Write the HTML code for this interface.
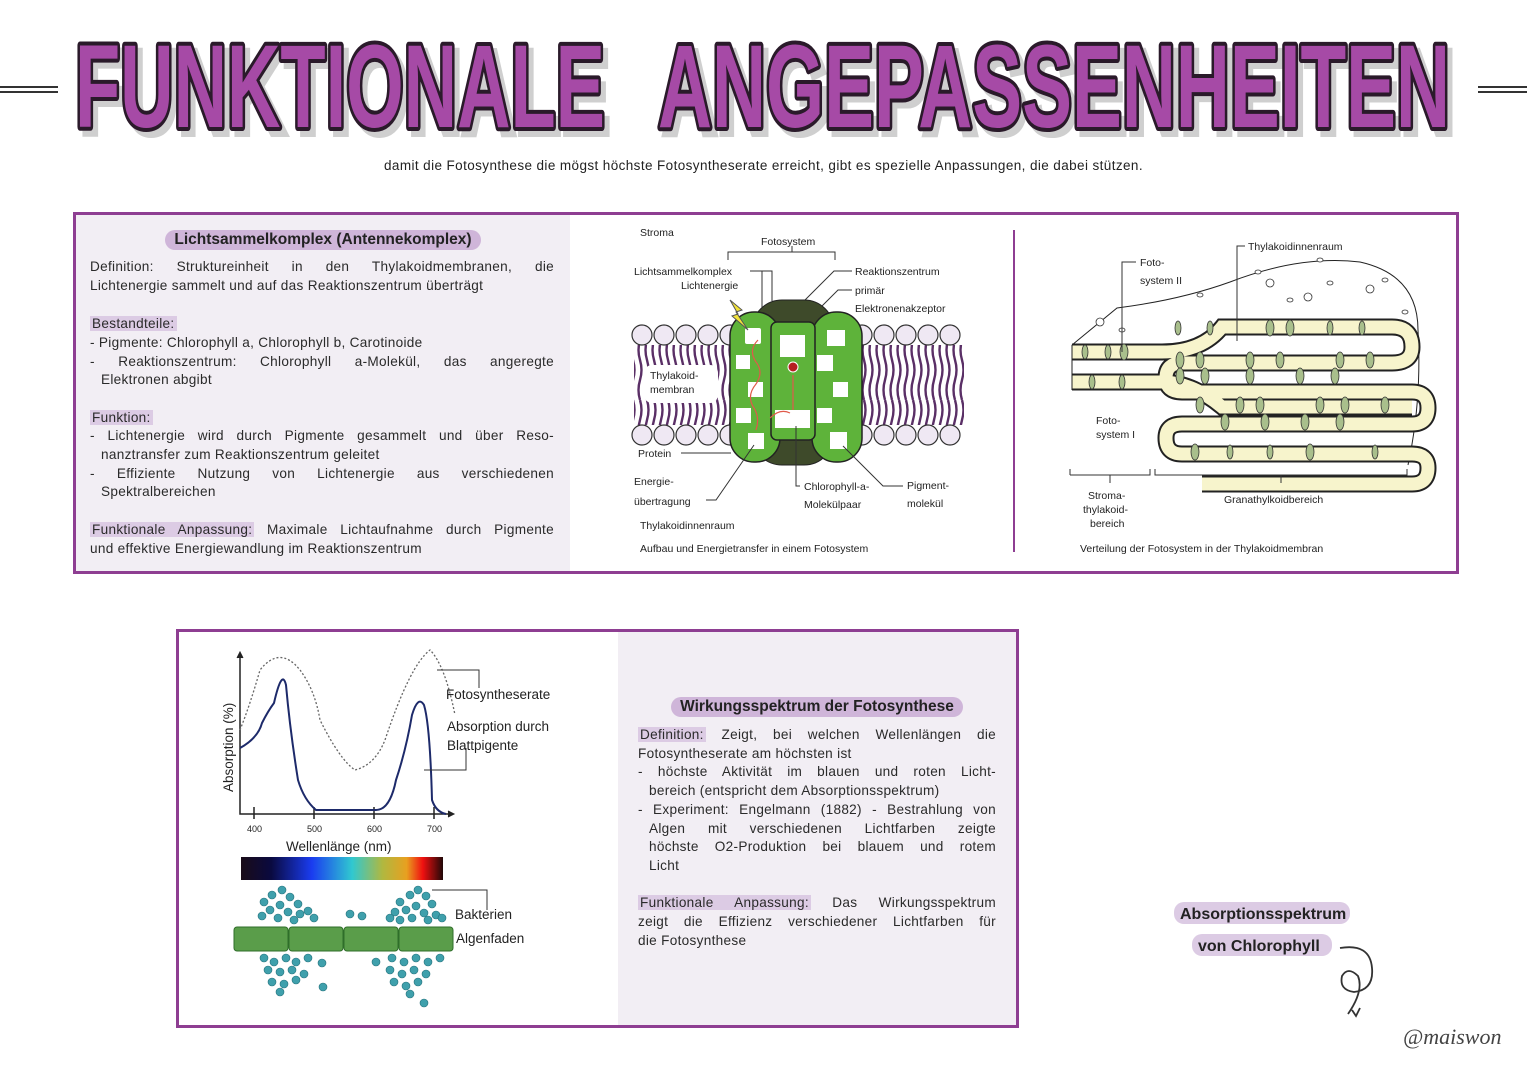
<!DOCTYPE html>
<html><head><meta charset="utf-8">
<style>
*{margin:0;padding:0;box-sizing:border-box}
body{width:1527px;height:1080px;background:#fff;position:relative;overflow:hidden;font-family:"Liberation Sans","DejaVu Sans",sans-serif;color:#222}
.abs{position:absolute}
.sub{top:158px;left:0;width:1527px;text-align:center;font-size:13.5px;letter-spacing:0.4px}
.box{position:absolute;border:3px solid #8e3e92}
.txt{font-size:13.6px;line-height:18.7px;letter-spacing:0.3px;color:#2a2a2a}
.j{text-align:justify;text-align-last:justify}
.pill{display:inline-block;background:#cfb5d9;border-radius:12px;padding:1px 9px;font-weight:bold;font-size:15.5px}
.hl{background:#dccbe4;padding:0 2px}
</style></head><body>
<div class="abs" style="left:0;top:86px;width:58px;height:7px;border-top:2px solid #333;border-bottom:2px solid #333"></div>
<div class="abs" style="left:1478px;top:86px;width:49px;height:7px;border-top:2px solid #333;border-bottom:2px solid #333"></div>
<svg class="abs" style="left:0;top:0" width="1527" height="160" font-family="Liberation Sans,sans-serif" font-weight="900" font-size="118">
<text x="80" y="133" textLength="530" lengthAdjust="spacingAndGlyphs" fill="#cfcfcf" stroke="#cfcfcf" stroke-width="8">FUNKTIONALE</text>
<text x="663" y="133" textLength="792" lengthAdjust="spacingAndGlyphs" fill="#cfcfcf" stroke="#cfcfcf" stroke-width="8">ANGEPASSENHEITEN</text>
<text x="75" y="127" textLength="530" lengthAdjust="spacingAndGlyphs" fill="#a64aa6" stroke="#2a1a2a" stroke-width="8" stroke-linejoin="round" style="paint-order:stroke">FUNKTIONALE</text>
<text x="658" y="127" textLength="792" lengthAdjust="spacingAndGlyphs" fill="#a64aa6" stroke="#2a1a2a" stroke-width="8" stroke-linejoin="round" style="paint-order:stroke">ANGEPASSENHEITEN</text>
</svg>
<div class="abs sub">damit die Fotosynthese die mögst höchste Fotosyntheserate erreicht, gibt es spezielle Anpassungen, die dabei stützen.</div>

<div class="box" style="left:73px;top:212px;width:1386px;height:362px"></div>
<div class="abs" style="left:76px;top:215px;width:494px;height:356px;background:#f2eef4"></div>
<div class="abs" style="left:1013px;top:230px;width:2px;height:322px;background:#8e3e92"></div>
<div class="abs" style="left:76px;top:230px;width:494px;text-align:center"><span class="pill">Lichtsammelkomplex (Antennekomplex)</span></div>
<div class="abs txt" style="left:90px;top:258px;width:464px">
<div class="j">Definition: Struktureinheit in den Thylakoidmembranen, die</div>
<div>Lichtenergie sammelt und auf das Reaktionszentrum überträgt</div>
<div>&nbsp;</div>
<div style="margin-top:1px"><span class="hl">Bestandteile:</span></div>
<div>- Pigmente: Chlorophyll a, Chlorophyll b, Carotinoide</div>
<div class="j"><span style="white-space:nowrap">- Reaktionszentrum:</span> Chlorophyll a-Molekül, das angeregte</div>
<div style="padding-left:11px">Elektronen abgibt</div>
<div>&nbsp;</div>
<div><span class="hl">Funktion:</span></div>
<div class="j"><span style="white-space:nowrap">- Lichtenergie</span> wird durch Pigmente gesammelt und über Reso-</div>
<div style="padding-left:11px">nanztransfer zum Reaktionszentrum geleitet</div>
<div class="j"><span style="white-space:nowrap">- Effiziente</span> Nutzung von Lichtenergie aus verschiedenen</div>
<div style="padding-left:11px">Spektralbereichen</div>
<div>&nbsp;</div>
<div class="j"><span class="hl">Funktionale Anpassung:</span> Maximale Lichtaufnahme durch Pigmente</div>
<div>und effektive Energiewandlung im Reaktionszentrum</div>
</div>

<svg class="abs" style="left:0;top:0" width="1527" height="1080" font-family="Liberation Sans,sans-serif" font-size="10.5" fill="#222">
<defs>
<pattern id="tail" width="7" height="80" patternUnits="userSpaceOnUse">
<path d="M3 0 q3 10 0 20 q-3 10 0 20 q3 10 0 20 q-3 10 0 20" stroke="#5a2f66" stroke-width="2.4" fill="none"/>
</pattern>
</defs>
<text x="640" y="236">Stroma</text>
<text x="761" y="245">Fotosystem</text>
<path d="M728 260 v-8 h107 v8 M792 252 v-6" stroke="#333" fill="none"/>
<text x="634" y="275">Lichtsammelkomplex</text>
<text x="681" y="289">Lichtenergie</text>
<text x="855" y="275">Reaktionszentrum</text>
<text x="855" y="294">primär</text>
<text x="855" y="312">Elektronenakzeptor</text>
<path d="M750 271 h12 v40 M762 271 h10 v30 M852 271 h-18 l-30 30 M852 290 h-14 l-20 20" stroke="#333" fill="none"/>
<rect x="634" y="345" width="330" height="80" fill="url(#tail)"/>
<g fill="#efe8f3" stroke="#333" stroke-width="1.2">
<circle cx="642" cy="335" r="10"/><circle cx="664" cy="335" r="10"/><circle cx="686" cy="335" r="10"/><circle cx="708" cy="335" r="10"/><circle cx="730" cy="335" r="10"/>
<circle cx="862" cy="335" r="10"/><circle cx="884" cy="335" r="10"/><circle cx="906" cy="335" r="10"/><circle cx="928" cy="335" r="10"/><circle cx="950" cy="335" r="10"/>
<circle cx="642" cy="435" r="10"/><circle cx="664" cy="435" r="10"/><circle cx="686" cy="435" r="10"/><circle cx="708" cy="435" r="10"/><circle cx="730" cy="435" r="10"/>
<circle cx="862" cy="435" r="10"/><circle cx="884" cy="435" r="10"/><circle cx="906" cy="435" r="10"/><circle cx="928" cy="435" r="10"/><circle cx="950" cy="435" r="10"/>
</g>
<rect x="644" y="365" width="74" height="38" rx="8" fill="#fff"/>
<text x="650" y="379">Thylakoid-</text><text x="650" y="393">membran</text>
<rect x="752" y="300" width="82" height="165" rx="30" fill="#3e4a2a" stroke="#222"/>
<rect x="730" y="312" width="50" height="150" rx="24" fill="#5eb33a" stroke="#222" stroke-width="1.5"/>
<rect x="812" y="312" width="50" height="150" rx="24" fill="#5eb33a" stroke="#222" stroke-width="1.5"/>
<rect x="771" y="322" width="44" height="118" rx="6" fill="#5eb33a" stroke="#222" stroke-width="1.5"/>
<g fill="#fff">
<rect x="745" y="328" width="16" height="16" rx="2"/><rect x="736" y="355" width="14" height="14"/><rect x="748" y="382" width="15" height="15"/><rect x="736" y="408" width="15" height="15"/><rect x="748" y="433" width="16" height="16"/>
<rect x="780" y="335" width="25" height="22"/><rect x="775" y="410" width="35" height="18"/>
<rect x="827" y="330" width="18" height="16"/><rect x="817" y="355" width="16" height="16"/><rect x="833" y="382" width="15" height="15"/><rect x="817" y="408" width="15" height="15"/><rect x="830" y="432" width="17" height="17"/>
</g>
<circle cx="793" cy="367" r="5" fill="#b52020" stroke="#fff"/>
<path d="M758 340 q-10 10 -2 22 q8 10 0 22 q-10 12 -2 24 q6 10 2 22 M770 418 q10 -10 20 -5 M793 410 v-35" stroke="#e05a4a" stroke-width="1.2" fill="none"/>
<path d="M730 300 l12 10 -6 2 12 18 -16 -14 6 -2 z" fill="#f2e33a" stroke="#555"/>
<text x="638" y="457">Protein</text><path d="M681 453 h50" stroke="#333"/>
<text x="634" y="485">Energie-</text><text x="634" y="505">übertragung</text><path d="M706 500 h10 l38 -55" stroke="#333" fill="none"/>
<text x="804" y="490">Chlorophyll-a-</text><text x="804" y="508">Molekülpaar</text><path d="M800 486 h-4 v-60" stroke="#333" fill="none"/>
<text x="907" y="489">Pigment-</text><text x="907" y="507">molekül</text><path d="M903 486 h-20 l-40 -40" stroke="#333" fill="none"/>
<text x="640" y="529">Thylakoidinnenraum</text>
<text x="640" y="552">Aufbau und Energietransfer in einem Fotosystem</text>

<path d="M1072 345 L1117 308 Q1180 300 1230 282 Q1300 255 1360 262 Q1418 275 1418 330 Q1422 400 1408 465" fill="none" stroke="#222"/>
<g fill="#fff" stroke="#333" stroke-width="0.8">
<ellipse cx="1200" cy="295" rx="3" ry="2"/><ellipse cx="1258" cy="272" rx="3" ry="2"/><ellipse cx="1320" cy="260" rx="3" ry="2"/><ellipse cx="1290" cy="300" rx="3" ry="2"/><ellipse cx="1330" cy="283" rx="3" ry="2"/><ellipse cx="1385" cy="280" rx="3" ry="2"/><ellipse cx="1405" cy="312" rx="3" ry="2"/><ellipse cx="1270" cy="283" rx="4" ry="4"/><ellipse cx="1308" cy="297" rx="4" ry="4"/><ellipse cx="1370" cy="289" rx="4" ry="4"/><ellipse cx="1100" cy="322" rx="4" ry="4"/><ellipse cx="1122" cy="330" rx="3" ry="2"/>
</g>
<g fill="none" stroke="#222" stroke-width="17">
<path d="M1072 352 h90 q40 0 60 -25 h170 q20 0 20 20 q0 16 -20 16 h-210 q-16 0 -16 15 q0 14 16 14 h230 q16 0 16 16 q0 16 -16 16 h-230 q-16 0 -16 14 q0 16 16 16 h230 q16 0 16 14 q0 16 -16 16 h-210"/>
<path d="M1072 382 h90 q30 0 60 25 h190"/>
</g>
<g fill="none" stroke="#f7f4cc" stroke-width="13">
<path d="M1072 352 h90 q40 0 60 -25 h170 q20 0 20 20 q0 16 -20 16 h-210 q-16 0 -16 15 q0 14 16 14 h230 q16 0 16 16 q0 16 -16 16 h-230 q-16 0 -16 14 q0 16 16 16 h230 q16 0 16 14 q0 16 -16 16 h-210"/>
<path d="M1072 382 h90 q30 0 60 25 h190"/>
</g>
<path d="M1072 345 v45" stroke="#222"/>
<g fill="#a9bf8c" stroke="#333" stroke-width="0.8">
<ellipse cx="1085" cy="352" rx="3" ry="7"/><ellipse cx="1108" cy="352" rx="3" ry="7"/><ellipse cx="1124" cy="352" rx="4" ry="8"/><ellipse cx="1178" cy="328" rx="3" ry="7"/><ellipse cx="1210" cy="328" rx="3" ry="7"/><ellipse cx="1270" cy="328" rx="4" ry="8"/><ellipse cx="1290" cy="328" rx="4" ry="8"/><ellipse cx="1330" cy="328" rx="3" ry="7"/><ellipse cx="1362" cy="328" rx="3" ry="7"/>
<ellipse cx="1180" cy="360" rx="4" ry="8"/><ellipse cx="1200" cy="360" rx="4" ry="8"/><ellipse cx="1250" cy="360" rx="4" ry="8"/><ellipse cx="1280" cy="360" rx="4" ry="8"/><ellipse cx="1340" cy="360" rx="4" ry="8"/><ellipse cx="1370" cy="360" rx="4" ry="8"/>
<ellipse cx="1180" cy="376" rx="4" ry="8"/><ellipse cx="1205" cy="376" rx="4" ry="8"/><ellipse cx="1250" cy="376" rx="4" ry="8"/><ellipse cx="1300" cy="376" rx="4" ry="8"/><ellipse cx="1335" cy="376" rx="4" ry="8"/>
<ellipse cx="1092" cy="382" rx="3" ry="7"/><ellipse cx="1122" cy="382" rx="3" ry="7"/><ellipse cx="1200" cy="405" rx="4" ry="8"/><ellipse cx="1240" cy="405" rx="4" ry="8"/><ellipse cx="1260" cy="405" rx="4" ry="8"/><ellipse cx="1320" cy="405" rx="4" ry="8"/><ellipse cx="1345" cy="405" rx="4" ry="8"/><ellipse cx="1385" cy="405" rx="4" ry="8"/>
<ellipse cx="1225" cy="422" rx="4" ry="8"/><ellipse cx="1265" cy="422" rx="4" ry="8"/><ellipse cx="1305" cy="422" rx="4" ry="8"/><ellipse cx="1340" cy="422" rx="4" ry="8"/>
<ellipse cx="1195" cy="452" rx="4" ry="8"/><ellipse cx="1230" cy="452" rx="3" ry="7"/><ellipse cx="1270" cy="452" rx="3" ry="7"/><ellipse cx="1310" cy="452" rx="4" ry="8"/><ellipse cx="1375" cy="452" rx="3" ry="7"/>
</g>
<text x="1140" y="266">Foto-</text><text x="1140" y="284">system II</text><path d="M1136 262 h-14 v90" stroke="#333" fill="none"/>
<text x="1248" y="250">Thylakoidinnenraum</text><path d="M1245 246 h-8 v95" stroke="#333" fill="none"/>
<text x="1096" y="424">Foto-</text><text x="1096" y="438">system I</text>
<path d="M1070 475 v-6 M1070 475 h80 v-6 M1155 469 v6 h252 v-6 M1110 475 v8 M1281 475 v8" stroke="#333" fill="none"/>
<text x="1088" y="499">Stroma-</text><text x="1083" y="513">thylakoid-</text><text x="1090" y="527">bereich</text>
<text x="1224" y="503">Granathylkoidbereich</text>
<text x="1080" y="552">Verteilung der Fotosystem in der Thylakoidmembran</text>
</svg>

<div class="box" style="left:176px;top:629px;width:843px;height:399px"></div>
<div class="abs" style="left:618px;top:632px;width:398px;height:393px;background:#f2eef4"></div>
<div class="abs" style="left:618px;top:697px;width:398px;text-align:center"><span class="pill">Wirkungsspektrum der Fotosynthese</span></div>
<div class="abs txt" style="left:638px;top:726px;width:358px">
<div class="j"><span class="hl">Definition:</span> Zeigt, bei welchen Wellenlängen die</div>
<div>Fotosyntheserate am höchsten ist</div>
<div class="j"><span style="white-space:nowrap">- höchste</span> Aktivität im blauen und roten Licht-</div>
<div style="padding-left:11px">bereich (entspricht dem Absorptionsspektrum)</div>
<div class="j"><span style="white-space:nowrap">- Experiment:</span> Engelmann (1882) - Bestrahlung von</div>
<div class="j" style="padding-left:11px">Algen mit verschiedenen Lichtfarben zeigte</div>
<div class="j" style="padding-left:11px">höchste O2-Produktion bei blauem und rotem</div>
<div style="padding-left:11px">Licht</div>
<div>&nbsp;</div>
<div class="j"><span class="hl">Funktionale Anpassung:</span> Das Wirkungsspektrum</div>
<div class="j">zeigt die Effizienz verschiedener Lichtfarben für</div>
<div>die Fotosynthese</div>
</div>

<div class="abs" style="left:1174px;top:902px;width:176px;height:22px;background:#dccbe4;border-radius:10px"></div>
<div class="abs" style="left:1192px;top:934px;width:140px;height:22px;background:#dccbe4;border-radius:10px"></div>

<svg class="abs" style="left:0;top:0" width="1527" height="1080" font-family="Liberation Sans,sans-serif" fill="#222">
<defs><linearGradient id="sp" x1="0" x2="1">
<stop offset="0" stop-color="#1a0c18"/><stop offset="0.15" stop-color="#0a0a40"/><stop offset="0.35" stop-color="#1a3cf0"/><stop offset="0.55" stop-color="#30c8d0"/><stop offset="0.7" stop-color="#b0b840"/><stop offset="0.82" stop-color="#e8a020"/><stop offset="0.9" stop-color="#f01010"/><stop offset="1" stop-color="#200808"/></linearGradient></defs>
<path d="M240 654 v160 h213" stroke="#222" stroke-width="1.5" fill="none"/>
<path d="M237 658 l3 -6 3 6 M448 811 l6 3 -6 3" fill="#222" stroke="#222"/>
<path d="M254 807 v12 M314 807 v12 M374 807 v12 M434 807 v12" stroke="#222" stroke-width="1.5"/>
<g font-size="9"><text x="247" y="832">400</text><text x="307" y="832">500</text><text x="367" y="832">600</text><text x="427" y="832">700</text></g>
<text x="286" y="851" font-size="13.5">Wellenlänge (nm)</text>
<text transform="translate(233,792) rotate(-90)" font-size="13.5">Absorption (%)</text>
<path d="M240 730 q10 -25 20 -60 q20 -25 40 0 q15 20 20 50 q20 40 35 50 q20 -5 30 -30 q25 -75 45 -90 q15 15 25 65" stroke="#666" stroke-width="1.3" stroke-dasharray="2,2" fill="none"/>
<path d="M240 748 q18 -10 22 -25 q6 -12 12 -20 q8 -35 12 -18 q4 45 12 95 q6 20 18 30 h60 q14 0 20 -30 q10 -30 16 -65 q6 -20 12 -10 q6 20 8 95 q4 12 14 14" stroke="#1d2a6a" stroke-width="2" fill="none"/>
<path d="M437 670 h42 v18 M424 770 h42 v-22" stroke="#333" fill="none"/>
<g font-size="13.5"><text x="446" y="699">Fotosyntheserate</text><text x="447" y="731">Absorption durch</text><text x="447" y="750">Blattpigente</text>
<text x="455" y="919">Bakterien</text><text x="456" y="943">Algenfaden</text></g>
<rect x="241" y="857" width="202" height="23" fill="url(#sp)"/>
<path d="M432 890 h55 v20" stroke="#333" fill="none"/>
<g fill="#5a9d4a" stroke="#2f6e2a"><rect x="234" y="927" width="54" height="24" rx="3"/><rect x="289" y="927" width="54" height="24" rx="3"/><rect x="344" y="927" width="54" height="24" rx="3"/><rect x="399" y="927" width="54" height="24" rx="3"/></g>
<g fill="#3fa0ac" stroke="#24707a" stroke-width="0.6">
<circle cx="264" cy="902" r="4"/><circle cx="272" cy="895" r="4"/><circle cx="282" cy="890" r="4"/><circle cx="290" cy="897" r="4"/><circle cx="298" cy="904" r="4"/><circle cx="270" cy="910" r="4"/><circle cx="280" cy="905" r="4"/><circle cx="288" cy="912" r="4"/><circle cx="300" cy="914" r="4"/><circle cx="262" cy="916" r="4"/><circle cx="278" cy="918" r="4"/><circle cx="308" cy="911" r="4"/><circle cx="314" cy="918" r="4"/><circle cx="294" cy="920" r="4"/>
<circle cx="350" cy="914" r="4"/><circle cx="362" cy="916" r="4"/>
<circle cx="395" cy="912" r="4"/><circle cx="400" cy="902" r="4"/><circle cx="410" cy="895" r="4"/><circle cx="418" cy="890" r="4"/><circle cx="426" cy="896" r="4"/><circle cx="432" cy="904" r="4"/><circle cx="406" cy="910" r="4"/><circle cx="416" cy="906" r="4"/><circle cx="424" cy="913" r="4"/><circle cx="436" cy="915" r="4"/><circle cx="412" cy="918" r="4"/><circle cx="390" cy="918" r="4"/><circle cx="400" cy="920" r="4"/><circle cx="428" cy="920" r="4"/><circle cx="442" cy="918" r="4"/>
<circle cx="264" cy="958" r="4"/><circle cx="274" cy="962" r="4"/><circle cx="286" cy="958" r="4"/><circle cx="296" cy="962" r="4"/><circle cx="308" cy="958" r="4"/><circle cx="268" cy="970" r="4"/><circle cx="280" cy="972" r="4"/><circle cx="292" cy="970" r="4"/><circle cx="304" cy="974" r="4"/><circle cx="272" cy="982" r="4"/><circle cx="284" cy="984" r="4"/><circle cx="296" cy="980" r="4"/><circle cx="280" cy="992" r="4"/><circle cx="322" cy="963" r="4"/><circle cx="323" cy="987" r="4"/>
<circle cx="376" cy="962" r="4"/><circle cx="392" cy="958" r="4"/><circle cx="404" cy="962" r="4"/><circle cx="416" cy="958" r="4"/><circle cx="428" cy="962" r="4"/><circle cx="440" cy="958" r="4"/><circle cx="390" cy="970" r="4"/><circle cx="402" cy="974" r="4"/><circle cx="414" cy="970" r="4"/><circle cx="426" cy="974" r="4"/><circle cx="394" cy="982" r="4"/><circle cx="406" cy="986" r="4"/><circle cx="418" cy="982" r="4"/><circle cx="410" cy="994" r="4"/><circle cx="424" cy="1003" r="4"/>
</g>
<text x="1180" y="919" font-size="16" font-weight="bold">Absorptionsspektrum</text>
<text x="1198" y="951" font-size="16" font-weight="bold">von Chlorophyll</text>
<path d="M1340 948 q30 -5 32 20 q2 22 -18 24 q-15 -2 -12 -16 q6 -10 16 0 q6 15 -10 38 M1352 1010 l4 6 4 -8" stroke="#333" stroke-width="1.8" fill="none"/>
<text x="1403" y="1044" font-family="Liberation Serif,serif" font-style="italic" font-size="22" fill="#444">@maiswon</text>
</svg>
</body></html>
